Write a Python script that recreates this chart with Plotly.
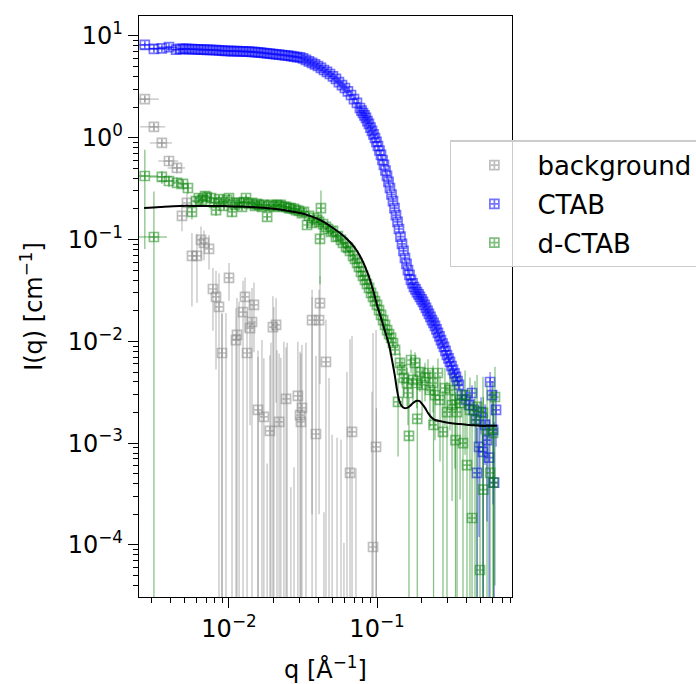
import plotly.graph_objects as go

# ---------------- data ----------------
# background (gray)
bg_q = [0.0027, 0.00311, 0.00352, 0.00393, 0.00445, 0.0052, 0.00481, 0.00647, 0.00678, 0.00733,
        0.00562, 0.00608, 0.01, 0.00779, 0.00817, 0.00856, 0.01283, 0.01244, 0.01475, 0.0143,
        0.01387, 0.01132, 0.01115, 0.00897, 0.01324, 0.0208, 0.0198, 0.0364, 0.0406, 0.0412,
        0.0452, 0.0157, 0.0172, 0.0189, 0.0218, 0.0243, 0.0292, 0.0311, 0.0302, 0.0306,
        0.0387, 0.0678, 0.0657, 0.0985, 0.094]
bg_I = [2.40, 1.28, 0.889, 0.591, 0.505, 0.229, 0.171, 0.0991, 0.0927, 0.0809,
        0.069, 0.069, 0.042, 0.0327, 0.0273, 0.0218, 0.0273, 0.0194, 0.0228, 0.0155,
        0.0135, 0.0116, 0.0103, 0.00769, 0.00769, 0.0145, 0.0138, 0.0162, 0.0162, 0.0238,
        0.00628, 0.00212, 0.00181, 0.00132, 0.00162, 0.00272, 0.00291, 0.00222, 0.00189, 0.00162,
        0.00123, 0.00129, 0.00051, 0.00092, 0.0000955]
bg_dI = [0.15, 0.10, 0.08, 0.07, 0.06, 0.06, 0.05, 0.035, 0.03, 0.03,
         0.047, 0.045, 0.017, 0.02, 0.022, 0.025, 0.015, 0.02, 0.015, 0.018,
         0.012, 0.015, 0.011, 0.011, 0.012, 0.012, 0.014, 0.016, 0.016, 0.02,
         0.01, 0.006, 0.005, 0.006, 0.006, 0.006, 0.007, 0.007, 0.006, 0.006,
         0.006, 0.01, 0.01, 0.012, 0.012]
bg_dq = [0.00066, 0.0006, 0.0006, 0.0006, 0.0006]
# background points with I <= 0: only the upper end of their error bar is visible
bg_neg_q = [0.00897, 0.00954, 0.01048, 0.0117, 0.0157, 0.0167, 0.0181, 0.0192, 0.0201, 0.0211,
            0.0224, 0.0235, 0.0247, 0.0262, 0.0275, 0.0331, 0.0364, 0.0438, 0.0474, 0.0497,
            0.0537, 0.0571, 0.0598, 0.0627, 0.0721, 0.0925, 0.099]
bg_neg_upper = [0.019, 0.019, 0.0103, 0.0245, 0.00703, 0.0103, 0.00063, 0.0097, 0.0218, 0.0082,
                0.0069, 0.0099, 0.0097, 0.00037, 0.00058, 0.0097, 0.0273, 0.00021, 0.00436, 0.00121,
                0.00113, 0.00108, 0.000105, 0.0050, 0.00057, 0.0032, 0.0022]

# CTAB (blue)
ctab_q = [0.0027, 0.00311, 0.00352, 0.00393, 0.00439,
          0.00467, 0.00489, 0.00513, 0.00537, 0.00563, 0.00590, 0.00618, 0.00647, 0.00678, 0.00711,
          0.00745, 0.00780, 0.00818, 0.00857, 0.00898, 0.00941, 0.00986, 0.01033, 0.01082, 0.01134,
          0.01188, 0.01245, 0.01304, 0.01367, 0.01432, 0.01500, 0.01572, 0.01647, 0.01726, 0.01808,
          0.01895, 0.01985, 0.0208, 0.0218, 0.0228, 0.0239, 0.0251, 0.0263, 0.0275, 0.0288,
          0.0302, 0.0316, 0.0331, 0.0347, 0.0364, 0.0381, 0.0399, 0.0418, 0.0438, 0.0459,
          0.0481, 0.0504, 0.0528, 0.0553, 0.0580, 0.0607, 0.0636, 0.0667, 0.0699, 0.0732,
          0.0767, 0.0804, 0.0842, 0.0882, 0.0925, 0.0969, 0.1015, 0.1064, 0.1114, 0.1168,
          0.1223, 0.1282, 0.1343, 0.1407, 0.1475, 0.1545, 0.1619, 0.1696, 0.1777, 0.1862,
          0.1951, 0.2044, 0.2142, 0.2244, 0.2351, 0.2464, 0.2581, 0.2705, 0.2834, 0.2969,
          0.3111, 0.3260, 0.3416, 0.3579,
          0.375, 0.399, 0.419, 0.4385, 0.452, 0.4665, 0.474, 0.489, 0.5046, 0.520,
          0.537, 0.5536, 0.5714, 0.5807, 0.5984, 0.608, 0.618, 0.637,
          0.0786, 0.0823, 0.0862, 0.0904, 0.0947, 0.0992, 0.1039, 0.1089, 0.1141, 0.1196,
          0.1253, 0.1313, 0.1376, 0.1441, 0.151, 0.1582, 0.1658, 0.1738, 0.182, 0.1908,
          0.1999, 0.2094, 0.2194, 0.2298, 0.2408, 0.2523, 0.2644, 0.277, 0.2903, 0.3041,
          0.3186, 0.3339, 0.3498]
ctab_I = [8.17, 7.45, 7.55, 7.75, 7.35,
          7.45, 7.45, 7.45, 7.42, 7.42, 7.40, 7.38, 7.35, 7.33, 7.31,
          7.30, 7.28, 7.25, 7.22, 7.18, 7.15, 7.12, 7.11, 7.10, 7.08,
          7.06, 7.05, 7.03, 7.00, 6.97, 6.93, 6.90, 6.85, 6.80, 6.75,
          6.70, 6.65, 6.60, 6.55, 6.50, 6.45, 6.40, 6.34, 6.27, 6.20,
          6.15, 6.01, 5.81, 5.62, 5.43, 5.25, 5.07, 4.85, 4.63, 4.43,
          4.23, 4.00, 3.78, 3.52, 3.29, 3.08, 2.85, 2.63, 2.40, 2.20,
          1.96, 1.75, 1.57, 1.37, 1.17, 0.995, 0.83, 0.678, 0.541, 0.422,
          0.321, 0.239, 0.174, 0.127, 0.0906, 0.0659, 0.0502, 0.0401, 0.0342, 0.0305,
          0.0273, 0.0244, 0.0213, 0.0186, 0.0162, 0.0142, 0.0121, 0.0103, 0.00881, 0.00735,
          0.00628, 0.00524, 0.00447, 0.00373,
          0.00297, 0.00266, 0.00237, 0.00311, 0.00212, 0.00169, 0.00051, 0.00092, 0.00202, 0.00082,
          0.00151, 0.00107, 0.00072, 0.00399, 0.00297, 0.00135, 0.00041, 0.00212,
          1.85, 1.66, 1.46, 1.26, 1.08, 0.91, 0.75, 0.605, 0.477, 0.368,
          0.277, 0.204, 0.149, 0.107, 0.0773, 0.0576, 0.0449, 0.0371, 0.0324, 0.0289,
          0.0258, 0.0228, 0.0199, 0.0174, 0.0152, 0.0131, 0.0112, 0.00953, 0.00805, 0.00680,
          0.00573, 0.00484, 0.00408]
ctab_dI = [0.30, 0.25, 0.20, 0.20, 0.15,
           0.15, 0.15, 0.15, 0.15, 0.15, 0.15, 0.15, 0.15, 0.15, 0.15,
           0.14, 0.14, 0.14, 0.14, 0.14, 0.14, 0.14, 0.14, 0.14, 0.14,
           0.14, 0.14, 0.14, 0.14, 0.14, 0.14, 0.14, 0.14, 0.14, 0.14,
           0.13, 0.13, 0.13, 0.13, 0.13, 0.13, 0.13, 0.13, 0.13, 0.13,
           0.11, 0.11, 0.10, 0.10, 0.10, 0.09, 0.09, 0.09, 0.08, 0.08,
           0.08, 0.07, 0.07, 0.06, 0.06, 0.06, 0.05, 0.05, 0.045, 0.04,
           0.035, 0.03, 0.03, 0.025, 0.02, 0.018, 0.015, 0.012, 0.01, 0.008,
           0.006, 0.005, 0.0035, 0.0026, 0.0019, 0.0014, 0.0011, 0.0009, 0.0008, 0.0007,
           0.0007, 0.0006, 0.0006, 0.0005, 0.0005, 0.0005, 0.0005, 0.0004, 0.0004, 0.0004,
           0.0004, 0.0004, 0.0004, 0.0004,
           0.0004, 0.0005, 0.0005, 0.0006, 0.0006, 0.0007, 0.0009, 0.0008, 0.0008, 0.0009,
           0.0009, 0.0009, 0.0010, 0.0010, 0.0011, 0.0011, 0.0012, 0.0012,
           0.035, 0.03, 0.03, 0.025, 0.02, 0.018, 0.015, 0.012, 0.01, 0.008,
           0.006, 0.005, 0.0035, 0.0026, 0.0019, 0.0014, 0.0011, 0.0009, 0.0008, 0.0007,
           0.0007, 0.0006, 0.0006, 0.0005, 0.0005, 0.0005, 0.0005, 0.0004, 0.0004, 0.0004,
           0.0004, 0.0004, 0.0004]
ctab_dq = [0.0006, 0.0006, 0.0006, 0.0006, 0.0006]

# d-CTAB (green)
dctab_q = [0.0027, 0.00311, 0.00352, 0.00393, 0.00445, 0.00489, 0.00528, 0.00562, 0.00598, 0.00626,
           0.00657, 0.00689, 0.0071, 0.00755, 0.00792, 0.00817, 0.00856, 0.00883, 0.00925, 0.0097,
           0.01, 0.01048, 0.01099, 0.01132, 0.0117, 0.01224, 0.01262, 0.01303, 0.01365, 0.0143,
           0.0150, 0.01545, 0.01594, 0.0167, 0.0172, 0.0181, 0.01862, 0.0192, 0.0201, 0.0211,
           0.0218, 0.0224, 0.0235, 0.0243, 0.0254, 0.0262, 0.0275, 0.0284, 0.0297, 0.0311,
           0.0321, 0.0337, 0.0347, 0.0364, 0.0375, 0.0394, 0.0406, 0.0418, 0.0412, 0.0432,
           0.0452, 0.0467, 0.0489, 0.0504, 0.0528, 0.0544, 0.0571, 0.0589, 0.0618, 0.0637,
           0.0657, 0.0689, 0.0710, 0.0733, 0.0755, 0.0779, 0.0804, 0.0829, 0.0855, 0.0883,
           0.0911, 0.0940, 0.0969, 0.1, 0.1032, 0.1065, 0.1099, 0.1133, 0.117, 0.1206,
           0.1245, 0.1282, 0.1324,
           0.1387, 0.1429, 0.1475, 0.152, 0.1595, 0.1619, 0.1644, 0.1698, 0.175, 0.1806,
           0.186, 0.187, 0.195, 0.2015, 0.211, 0.221, 0.228, 0.239, 0.241, 0.2464,
           0.258, 0.2664, 0.279, 0.2877, 0.297, 0.311, 0.3214, 0.3365, 0.339, 0.3474,
           0.364, 0.381, 0.3935, 0.4055, 0.4246, 0.4385, 0.4592, 0.474, 0.4966, 0.520,
           0.523, 0.5536, 0.5807, 0.608, 0.612, 0.6266]
dctab_I = [0.421, 0.106, 0.412, 0.376, 0.360, 0.352, 0.321, 0.187, 0.239, 0.256,
           0.245, 0.268, 0.262, 0.256, 0.229, 0.195, 0.250, 0.234, 0.214, 0.245,
           0.256, 0.187, 0.219, 0.229, 0.229, 0.209, 0.234, 0.256, 0.224, 0.229,
           0.214, 0.224, 0.219, 0.209, 0.219, 0.167, 0.214, 0.219, 0.209, 0.219,
           0.214, 0.219, 0.209, 0.209, 0.204, 0.204, 0.200, 0.195, 0.191, 0.182,
           0.187, 0.139, 0.171, 0.146, 0.163, 0.156, 0.149, 0.204, 0.1014, 0.142,
           0.133, 0.127, 0.119, 0.122, 0.106, 0.108, 0.0991, 0.0927, 0.0846, 0.0827,
           0.0773, 0.0690, 0.0644, 0.0589, 0.0538, 0.0481, 0.0439, 0.0401, 0.0366, 0.0335,
           0.0299, 0.0273, 0.0249, 0.0228, 0.0203, 0.0182, 0.0162, 0.0145, 0.0129, 0.0118,
           0.0108, 0.00964, 0.00824,
           0.00254, 0.00614, 0.00524, 0.00437, 0.00390, 0.00311, 0.00118, 0.00656, 0.00418, 0.00614,
           0.00390, 0.00173, 0.00500, 0.00373, 0.00437, 0.00489, 0.00333, 0.00390, 0.00151, 0.00297,
           0.00489, 0.00266, 0.00129, 0.00348, 0.00202, 0.00333, 0.00237, 0.00266, 0.00107, 0.00202,
           0.00248, 0.00100, 0.00297, 0.00061, 0.00212, 0.000184, 0.00169, 0.00227, 0.0000568, 0.00198,
           0.00035, 0.00135, 0.00051, 0.00126, 0.00041, 0.00284]
dctab_dI = [0.34, 0.19, 0.06, 0.05, 0.05, 0.04, 0.04, 0.03, 0.03, 0.03,
            0.03, 0.03, 0.03, 0.03, 0.025, 0.025, 0.025, 0.025, 0.02, 0.02,
            0.02, 0.02, 0.02, 0.02, 0.02, 0.015, 0.015, 0.015, 0.015, 0.015,
            0.012, 0.012, 0.012, 0.012, 0.012, 0.012, 0.01, 0.01, 0.01, 0.01,
            0.01, 0.01, 0.01, 0.01, 0.01, 0.01, 0.01, 0.01, 0.01, 0.01,
            0.01, 0.01, 0.01, 0.01, 0.01, 0.01, 0.01, 0.10, 0.065, 0.008,
            0.008, 0.008, 0.007, 0.007, 0.006, 0.006, 0.006, 0.005, 0.005, 0.005,
            0.004, 0.004, 0.004, 0.003, 0.003, 0.003, 0.003, 0.0025, 0.0025, 0.0022,
            0.002, 0.002, 0.0018, 0.0016, 0.0015, 0.0014, 0.0013, 0.0012, 0.0012, 0.0011,
            0.0011, 0.001, 0.001,
            0.0018, 0.0015, 0.0015, 0.0015, 0.0016, 0.0016, 0.0016, 0.0017, 0.0017, 0.0017,
            0.0017, 0.0018, 0.0018, 0.0018, 0.0018, 0.0018, 0.0019, 0.0019, 0.0019, 0.0019,
            0.0019, 0.002, 0.002, 0.002, 0.002, 0.002, 0.0021, 0.0021, 0.0021, 0.0021,
            0.0022, 0.0022, 0.0022, 0.0023, 0.0023, 0.0023, 0.0024, 0.0024, 0.0025, 0.0025,
            0.0025, 0.0026, 0.0026, 0.0027, 0.0027, 0.0028]
dctab_dq = [0.0006, 0.0007, 0.0006, 0.0006]

# fitted model (black line)
fit_q = [0.00267, 0.00342, 0.00467, 0.00637, 0.00869, 0.01186, 0.0162, 0.0221, 0.0302, 0.0352,
         0.0412, 0.0481, 0.0562, 0.0657, 0.0733, 0.0804, 0.0869, 0.094, 0.1, 0.1048,
         0.1099, 0.1151, 0.1206, 0.1263, 0.1324, 0.1365, 0.141, 0.1453, 0.1521, 0.1595,
         0.167, 0.175, 0.1837, 0.1924, 0.2015, 0.211, 0.221, 0.2317, 0.2464, 0.2664,
         0.311, 0.364, 0.4246, 0.4966, 0.5807, 0.647]
fit_I = [0.204, 0.209, 0.214, 0.214, 0.214, 0.211, 0.206, 0.197, 0.182, 0.171,
         0.156, 0.136, 0.116, 0.0946, 0.0773, 0.0603, 0.0459, 0.032, 0.0228, 0.0182,
         0.0145, 0.0116, 0.00923, 0.00656, 0.00447, 0.00333, 0.00266, 0.00237, 0.00222, 0.00222,
         0.00232, 0.00248, 0.0026, 0.0026, 0.00243, 0.00222, 0.00198, 0.00181, 0.00169, 0.00165,
         0.00158, 0.00154, 0.00151, 0.00148, 0.00148, 0.00148]

x_tickvals = [0.01, 0.1]
x_ticktext = ["10<sup>−2</sup>", "10<sup>−1</sup>"]
y_tickvals = [1e-4, 1e-3, 1e-2, 1e-1, 1, 10]
y_ticktext = ["10<sup>−4</sup>", "10<sup>−3</sup>", "10<sup>−2</sup>", "10<sup>−1</sup>",
              "10<sup>0</sup>", "10<sup>1</sup>"]

# ---------------- styling ----------------
GRAY = "rgba(128,128,128,0.5)"
BLUE = "rgba(0,0,255,0.55)"
GREEN = "rgba(0,128,0,0.5)"
FONT = "DejaVu Sans"

fig = go.Figure()

# lone error bars of non-positive background points
lx, ly = [], []
for q, u in zip(bg_neg_q, bg_neg_upper):
    lx += [q, q, None]
    ly += [u, 1e-6, None]
fig.add_trace(go.Scatter(x=lx, y=ly, mode="lines", line=dict(color=GRAY, width=1.2),
                         showlegend=False, hoverinfo="skip"))


def data_trace(name, q, I, dI, dq, color):
    return go.Scatter(
        x=q, y=I, name=name, mode="markers", legendgroup=name,
        marker=dict(symbol="square-cross-open", size=9, color=color,
                    line=dict(width=1.7, color=color)),
        error_y=dict(type="data", array=dI, color=color, thickness=1.2, width=0),
        error_x=dict(type="data", array=dq, color=color, thickness=1.2, width=0),
    )


fig.add_trace(data_trace("background", bg_q, bg_I, bg_dI, bg_dq, GRAY))
fig.add_trace(data_trace("CTAB", ctab_q, ctab_I, ctab_dI, ctab_dq, BLUE))
fig.add_trace(data_trace("d-CTAB", dctab_q, dctab_I, dctab_dI, dctab_dq, GREEN))
fig.add_trace(go.Scatter(x=fit_q, y=fit_I, mode="lines", line=dict(color="black", width=2),
                         showlegend=False, line_shape="spline"))

minor_x = [m * 10.0 ** e for e in (-3, -2, -1) for m in range(2, 10)]
minor_y = [m * 10.0 ** e for e in (-5, -4, -3, -2, -1, 0, 1) for m in range(2, 10)]

axis_common = dict(
    type="log", showgrid=False, zeroline=False,
    showline=True, linecolor="black", linewidth=1.3, mirror=True,
    ticks="outside", ticklen=10, tickwidth=1.3, tickcolor="black",
    tickfont=dict(family=FONT, size=24, color="black"),
)

fig.update_xaxes(**axis_common, range=[-2.608, -0.088],
                 tickvals=x_tickvals, ticktext=x_ticktext,
                 minor=dict(ticks="outside", ticklen=5, tickwidth=1.0, tickcolor="black",
                            tickvals=minor_x, showgrid=False),
                 title=dict(text="q [Å<sup>−1</sup>]", font=dict(family=FONT, size=24, color="black"),
                            standoff=21))
fig.update_yaxes(**axis_common, range=[-4.511, 1.196],
                 tickvals=y_tickvals, ticktext=y_ticktext,
                 minor=dict(ticks="outside", ticklen=5, tickwidth=1.0, tickcolor="black",
                            tickvals=minor_y, showgrid=False),
                 title=dict(text="I(q) [cm<sup>−1</sup>]", font=dict(family=FONT, size=24, color="black"),
                            standoff=18))

fig.update_layout(
    width=696, height=684, autosize=False,
    margin=dict(l=139, r=184, t=16, b=87, autoexpand=False),
    paper_bgcolor="white", plot_bgcolor="white",
    font=dict(family=FONT, size=24, color="black"),
    legend=dict(x=0.834, xanchor="left", y=0.786, yanchor="top",
                bgcolor="rgba(255,255,255,0.8)", bordercolor="#cccccc", borderwidth=1.3,
                font=dict(family=FONT, size=26, color="black"),
                tracegroupgap=2, itemwidth=76),
    showlegend=True,
)

fig.write_html("out.html")
